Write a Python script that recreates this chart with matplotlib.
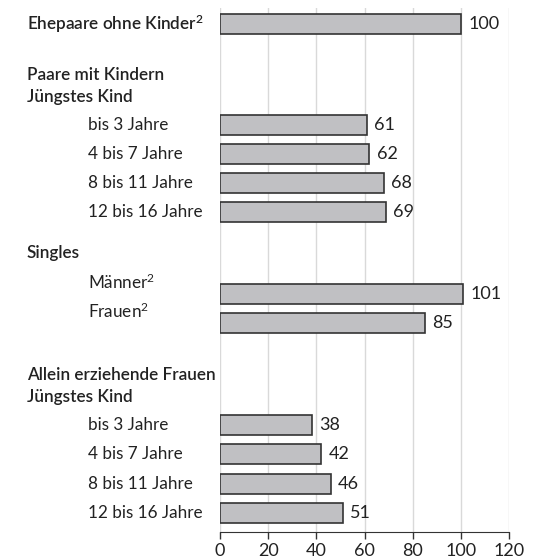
import matplotlib.pyplot as plt
import matplotlib.transforms as mtransforms

plt.rcParams['font.family'] = ['Lato', 'DejaVu Sans']
plt.rcParams['mathtext.default'] = 'regular'

# data
values = [100, 61, 62, 68, 69, 101, 85, 38, 42, 46, 51]
xticks = [0, 20, 40, 60, 80, 100, 120]

# row layout (pixel rows from top of the plot)
bar_rows = [24, 125, 154, 183, 212, 294, 323, 425, 454, 484, 513]

headers = [
    ("Ehepaare ohne Kinder$^{2}$", 24),
    ("Paare mit Kindern", 75),
    ("Jüngstes Kind", 97),
    ("Singles", 253),
    ("Allein erziehende Frauen", 375),
    ("Jüngstes Kind", 397),
]
sublabels = [
    ("bis 3 Jahre", 125),
    ("4 bis 7 Jahre", 154),
    ("8 bis 11 Jahre", 183),
    ("12 bis 16 Jahre", 212),
    ("Männer$^{2}$", 282),
    ("Frauen$^{2}$", 311),
    ("bis 3 Jahre", 425),
    ("4 bis 7 Jahre", 454),
    ("8 bis 11 Jahre", 484),
    ("12 bis 16 Jahre", 513),
]

W, H = 533, 560
fig = plt.figure(figsize=(W / 100, H / 100), dpi=100)
ax = fig.add_axes([220 / W, 1 - 532 / H, (509 - 220) / W, (532 - 8) / H])

txt = '#222222'
ax.barh(bar_rows, values, height=20, color='#c0c0c3', edgecolor='#333333',
        linewidth=1.2, zorder=3)
for y, v in zip(bar_rows, values):
    ax.text(v + 3, y, str(v), va='center', ha='left', fontsize=13, color=txt)

ax.set_xlim(0, 120)
ax.set_ylim(532, 8)
ax.set_xticks(xticks)
ax.set_yticks([])
ax.grid(axis='x', color='#d9d9d9', linewidth=1, zorder=0)
for s in ['top', 'right', 'left']:
    ax.spines[s].set_visible(False)
ax.spines['bottom'].set_color('#333333')
ax.tick_params(axis='x', direction='out', length=5, width=1, color='#333333',
               labelsize=13, labelcolor=txt, pad=3)

tr = mtransforms.blended_transform_factory(fig.transFigure, ax.transData)
for s, y in headers:
    ax.text(27 / W, y, s, transform=tr, va='center', ha='left',
            fontsize=12.3, fontweight='semibold', color=txt, clip_on=False)
for s, y in sublabels:
    ax.text(88 / W, y, s, transform=tr, va='center', ha='left',
            fontsize=12.3, color=txt, clip_on=False)

fig.savefig('out.png', dpi=100)
